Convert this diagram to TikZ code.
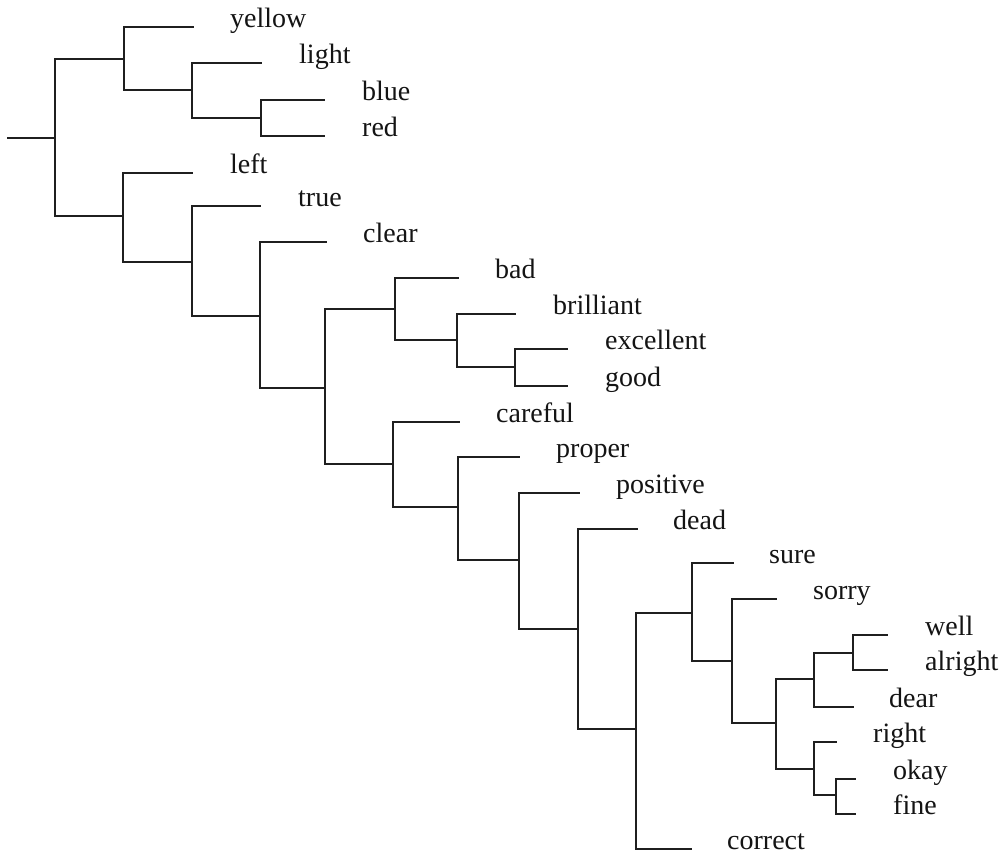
\documentclass[tikz,border=0pt]{standalone}
\usepackage{fontspec}
\newfontfamily\labfont{Liberation Serif}
\begin{document}
\begin{tikzpicture}[x=1pt,y=-1pt,
  br/.style={draw=black!88,line width=1.8pt,line cap=rect},
  lab/.style={anchor=base west,inner sep=0pt,font=\labfont\fontsize{28}{30}\selectfont,text=black!92}]
\useasboundingbox[fill=white] (0,0) rectangle (1004,860);
% internal nodes (vertical x, joining y)
\coordinate (st) at (8,138);
\coordinate (root) at (55,138);
\coordinate (A) at (124,59);
\coordinate (B) at (192,90);
\coordinate (C) at (261,118);
\coordinate (D) at (123,216);
\coordinate (E) at (192,262);
\coordinate (F) at (260,316);
\coordinate (G) at (325,388);
\coordinate (G1) at (395,309);
\coordinate (H) at (457,340);
\coordinate (I) at (515,367);
\coordinate (G2) at (393,464);
\coordinate (J) at (458,507);
\coordinate (K) at (519,560);
\coordinate (L) at (578,629);
\coordinate (M) at (636,729);
\coordinate (N) at (692,613);
\coordinate (O) at (732,661);
\coordinate (P) at (776,723);
\coordinate (Q) at (814,679);
\coordinate (R) at (853,653);
\coordinate (S) at (814,769);
\coordinate (T) at (836,795);
% leaf ends
\coordinate (yellow-e) at (193,27);
\coordinate (light-e) at (261,63);
\coordinate (blue-e) at (324,100);
\coordinate (red-e) at (324,136);
\coordinate (left-e) at (192,173);
\coordinate (true-e) at (260,206);
\coordinate (clear-e) at (326,242);
\coordinate (bad-e) at (458,278);
\coordinate (brilliant-e) at (515,314);
\coordinate (excellent-e) at (567,349);
\coordinate (good-e) at (567,386);
\coordinate (careful-e) at (459,422);
\coordinate (proper-e) at (519,457);
\coordinate (positive-e) at (579,493);
\coordinate (dead-e) at (637,529);
\coordinate (correct-e) at (691,849);
\coordinate (sure-e) at (733,563);
\coordinate (sorry-e) at (776,599);
\coordinate (well-e) at (887,635);
\coordinate (alright-e) at (887,670);
\coordinate (dear-e) at (853,707);
\coordinate (right-e) at (836,742);
\coordinate (okay-e) at (855,779);
\coordinate (fine-e) at (855,814);
% labels
\node[lab] (yellow) at (230,27) {yellow};
\node[lab] (light) at (299,63) {light};
\node[lab] (blue) at (362,100) {blue};
\node[lab] (red) at (362,136) {red};
\node[lab] (left) at (230,173) {left};
\node[lab] (true) at (298,206) {true};
\node[lab] (clear) at (363,242) {clear};
\node[lab] (bad) at (495,278) {bad};
\node[lab] (brilliant) at (553,314) {brilliant};
\node[lab] (excellent) at (605,349) {excellent};
\node[lab] (good) at (605,386) {good};
\node[lab] (careful) at (496,422) {careful};
\node[lab] (proper) at (556,457) {proper};
\node[lab] (positive) at (616,493) {positive};
\node[lab] (dead) at (673,529) {dead};
\node[lab] (correct) at (727,849) {correct};
\node[lab] (sure) at (769,563) {sure};
\node[lab] (sorry) at (813,599) {sorry};
\node[lab] (well) at (925,635) {well};
\node[lab] (alright) at (925,670) {alright};
\node[lab] (dear) at (889,707) {dear};
\node[lab] (right) at (873,742) {right};
\node[lab] (okay) at (893,779) {okay};
\node[lab] (fine) at (893,814) {fine};
% branches
\draw[br] (st) -- (root);
\draw[br] (root) |- (A); \draw[br] (root) |- (D);
\draw[br] (A) |- (yellow-e); \draw[br] (A) |- (B);
\draw[br] (B) |- (light-e); \draw[br] (B) |- (C);
\draw[br] (C) |- (blue-e); \draw[br] (C) |- (red-e);
\draw[br] (D) |- (left-e); \draw[br] (D) |- (E);
\draw[br] (E) |- (true-e); \draw[br] (E) |- (F);
\draw[br] (F) |- (clear-e); \draw[br] (F) |- (G);
\draw[br] (G) |- (G1); \draw[br] (G) |- (G2);
\draw[br] (G1) |- (bad-e); \draw[br] (G1) |- (H);
\draw[br] (H) |- (brilliant-e); \draw[br] (H) |- (I);
\draw[br] (I) |- (excellent-e); \draw[br] (I) |- (good-e);
\draw[br] (G2) |- (careful-e); \draw[br] (G2) |- (J);
\draw[br] (J) |- (proper-e); \draw[br] (J) |- (K);
\draw[br] (K) |- (positive-e); \draw[br] (K) |- (L);
\draw[br] (L) |- (dead-e); \draw[br] (L) |- (M);
\draw[br] (M) |- (N); \draw[br] (M) |- (correct-e);
\draw[br] (N) |- (sure-e); \draw[br] (N) |- (O);
\draw[br] (O) |- (sorry-e); \draw[br] (O) |- (P);
\draw[br] (P) |- (Q); \draw[br] (P) |- (S);
\draw[br] (Q) |- (R); \draw[br] (Q) |- (dear-e);
\draw[br] (R) |- (well-e); \draw[br] (R) |- (alright-e);
\draw[br] (S) |- (right-e); \draw[br] (S) |- (T);
\draw[br] (T) |- (okay-e); \draw[br] (T) |- (fine-e);
\end{tikzpicture}
\end{document}
